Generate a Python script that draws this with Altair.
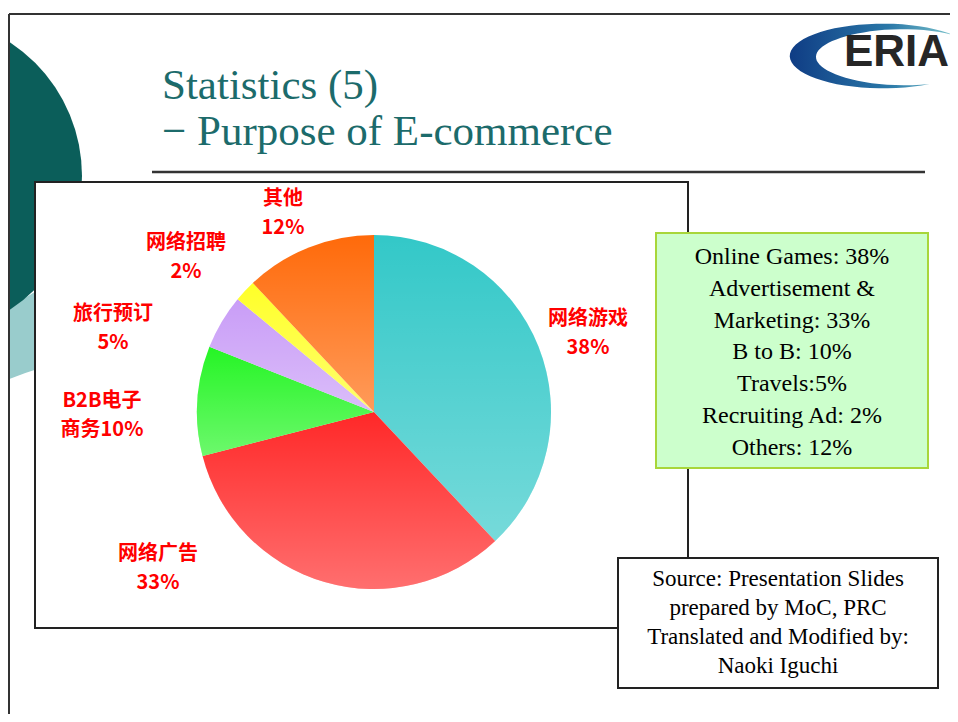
import math
import altair as alt
import pandas as pd

# ---------------- data ----------------
categories = ["网络游戏", "网络广告", "B2B电子商务", "旅行预订", "网络招聘", "其他"]
shares = [38, 33, 10, 5, 2, 12]
slice_colors = ["#33c8c8", "#ff2828", "#25f525", "#c99df7", "#ffff28", "#ff6a0a"]
label_texts = ["网络游戏\n38%", "网络广告\n33%", "B2B电子\n商务10%", "旅行预订\n5%", "网络招聘\n2%", "其他\n12%"]

legend_lines = ["Online Games: 38%", "Advertisement &", "Marketing: 33%", "B to B: 10%",
                "Travels:5%", "Recruiting Ad: 2%", "Others: 12%"]
source_lines = ["Source: Presentation Slides", "prepared by MoC, PRC",
                "Translated and Modified by:", "Naoki Iguchi"]
title_lines = ["Statistics (5)", "\u2212 Purpose of E-commerce"]
logo_text = "ERIA"

# ---------------- layout (page pixels) ----------------
W, H = 942, 706
def px(x):
    return x - 8
def py(y):
    return y - 8

# label anchors: centre x, first-line baseline (manually placed in the original slide)
label_anchor = {
    "网络游戏": (588, 325),
    "网络广告": (158, 560),
    "B2B电子商务": (102, 407),
    "旅行预订": (113, 320),
    "网络招聘": (186, 249),
    "其他": (283, 205),
}

one = pd.DataFrame({"k": [0]})
SERIF = "Liberation Serif"


def disc(cx, cy, r, color):
    return alt.Chart(one).mark_arc(theta=0, theta2=2 * math.pi, radius=r, fill=color).encode(
        x=alt.value(px(cx)), y=alt.value(py(cy)))


def box(x1, y1, x2, y2, fill, stroke, sw=2):
    return alt.Chart(one).mark_rect(fill=fill, stroke=stroke, strokeWidth=sw).encode(
        x=alt.value(px(x1)), x2=alt.value(px(x2)), y=alt.value(py(y1)), y2=alt.value(py(y2)))


def rule(x1, y1, x2, y2, color="#333333", sw=2):
    return alt.Chart(one).mark_rule(color=color, strokeWidth=sw).encode(
        x=alt.value(px(x1)), x2=alt.value(px(x2)), y=alt.value(py(y1)), y2=alt.value(py(y2)))


def text(x, y, s, size, color="black", font=SERIF, weight="normal", align="left", lh=None):
    kw = dict(text=s, fontSize=size, color=color, font=font, fontWeight=weight,
              align=align, baseline="alphabetic")
    if lh is not None:
        kw.update(lineBreak="\n", lineHeight=lh)
    return alt.Chart(one).mark_text(**kw).encode(x=alt.value(px(x)), y=alt.value(py(y)))


# ---------------- decorations ----------------
light_disc = disc(200, 560, 315, "#99cccc")
white_disc = disc(156, 751, 400, "white")
dark_disc = disc(-78, 176, 160, "#0b5e5a")

border = rule(9, 14, 958, 14) + rule(9, 14, 9, 722)

title1 = text(162, 99, title_lines[0], 43, color="#1c6b6b")
title2 = text(162, 145, title_lines[1], 43, color="#1c6b6b")
underline = rule(152, 172, 925, 172, color="#333333", sw=2.5)

# ERIA swoosh as a custom symbol path
pts_o, pts_i = [], []
n = 48
t0, t1 = -40.0, -300.0
for i in range(n + 1):
    t = math.radians(t0 + (t1 - t0) * i / n)
    w = 0.27 * math.sin(math.pi * i / n)
    pts_o.append((0.08 + 0.95 * math.cos(t), 0.33 * math.sin(t)))
    pts_i.append((0.08 + (0.95 - w) * math.cos(t), (0.33 - 0.42 * w) * math.sin(t)))
path = "M" + " L".join(f"{x:.3f},{y:.3f}" for x, y in pts_o)
path += " L" + " L".join(f"{x:.3f},{y:.3f}" for x, y in reversed(pts_i)) + " Z"
swoosh_grad = {"gradient": "linear", "x1": 0, "y1": 0, "x2": 1, "y2": 0,
               "stops": [{"offset": 0, "color": "#0f3c84"},
                         {"offset": 0.6, "color": "#2a78a8"},
                         {"offset": 1, "color": "#7cc4cc"}]}
swoosh = alt.Chart(one).mark_point(shape=path, filled=True, size=196 ** 2, opacity=1,
                                   strokeWidth=0).encode(
    x=alt.value(px(875)), y=alt.value(py(56)), fill=alt.value(swoosh_grad))
logo = text(844, 66, logo_text, 44, color="#262626", font="Liberation Sans", weight="bold")

chart_box = box(35, 182, 688, 628, "white", "#222222", 2)

# ---------------- pie ----------------
pie_df = pd.DataFrame({"category": categories, "share": shares, "order": list(range(len(categories)))})
CX, CY, R = 374, 412, 177
base = alt.Chart(pie_df).encode(
    theta=alt.Theta("share:Q", stack=True),
    order=alt.Order("order:Q"),
    x=alt.value(px(CX)), y=alt.value(py(CY)),
)
pie = base.mark_arc(radius=R).encode(
    color=alt.Color("category:N", scale=alt.Scale(domain=categories, range=slice_colors), legend=None))
sheen_grad = {"gradient": "linear", "x1": 0, "y1": 0, "x2": 0, "y2": 1,
              "stops": [{"offset": 0, "color": "rgba(255,255,255,0)"},
                        {"offset": 1, "color": "rgba(255,255,255,0.33)"}]}
sheen = base.mark_arc(radius=R).encode(fill=alt.value(sheen_grad))

lab_df = pd.DataFrame({
    "label": label_texts,
    "lx": [px(label_anchor[c][0]) for c in categories],
    "ly": [py(label_anchor[c][1]) for c in categories],
})
labels = alt.Chart(lab_df).mark_text(
    font="Noto Sans CJK SC", fontWeight="bold", fontSize=20, color="#ff0000",
    align="center", baseline="alphabetic", lineBreak="\n", lineHeight=29,
).encode(
    x=alt.X("lx:Q", scale=None, axis=None),
    y=alt.Y("ly:Q", scale=None, axis=None),
    text="label:N",
)

# ---------------- boxes ----------------
green_box = box(656, 233, 928, 468, "#ccffcc", "#a8d63a", 2)
green_text = text(792, 264, "\n".join(legend_lines), 24, align="center", lh=31.8)

src_box = box(618, 558, 938, 688, "white", "#222222", 2)
src_text = text(778, 586, "\n".join(source_lines), 23, align="center", lh=29)

chart = alt.layer(
    light_disc, white_disc, dark_disc, border,
    title1, title2, underline, swoosh, logo,
    chart_box, pie, sheen, labels,
    green_box, green_text, src_box, src_text,
).properties(
    width=W, height=H, padding=0,
    autosize=alt.AutoSizeParams(type="none"),
    background="white",
).configure_view(stroke=None)

chart.save("out.html", embed_options={"renderer": "svg", "actions": False})
